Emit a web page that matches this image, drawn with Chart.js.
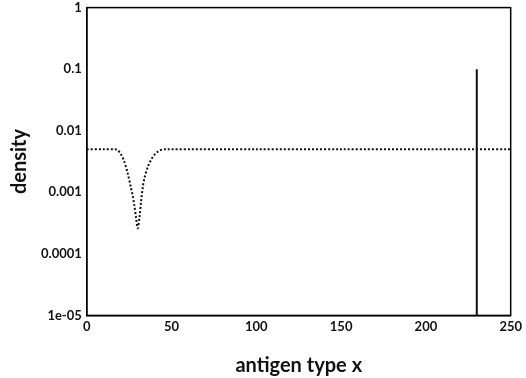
<!DOCTYPE html>
<html>
<head>
<meta charset="utf-8">
<script src="https://cdn.jsdelivr.net/npm/chart.js@4/dist/chart.umd.min.js"></script>
<style>
html,body{margin:0;padding:0;background:#fff;}
canvas{display:block;}
</style>
</head>
<body>
<canvas id="c" width="526" height="378"></canvas>
<script>
// Dotted density curve (antigen type x, density)
const curveX = [0, 10, 16, 18, 20, 22, 24, 26, 27, 28, 29, 30, 31, 32, 33, 34, 36, 38, 40, 42, 44, 46, 100, 150, 200, 250];
const curveY = [0.005, 0.005, 0.005, 0.0049, 0.0042, 0.0032, 0.0021, 0.0012, 0.0009, 0.00062, 0.0004, 0.00026, 0.00038, 0.0007, 0.0012, 0.0017, 0.0026, 0.0034, 0.0041, 0.0046, 0.0049, 0.005, 0.005, 0.005, 0.005, 0.005];
// Solid vertical spike at x = 230
const spikeX = [230, 230];
const spikeY = [0.00001, 0.1];
// Tick labels
const xTicks = [0, 50, 100, 150, 200, 250];
const yTicks = [1, 0.1, 0.01, 0.001, 0.0001, 0.00001];
const yTickLabels = ['1', '0.1', '0.01', '0.001', '0.0001', '1e-05'];

const boxPlugin = {
  id: 'box',
  afterDraw(chart) {
    const a = chart.chartArea, ctx = chart.ctx;
    ctx.save();
    ctx.strokeStyle = '#000';
    ctx.lineWidth = 1.5;
    ctx.strokeRect(a.left, a.top, a.right - a.left, a.bottom - a.top);
    ctx.restore();
  }
};

new Chart(document.getElementById('c'), {
  type: 'scatter',
  data: {
    datasets: [
      {
        data: curveX.map((x, i) => ({x, y: curveY[i]})),
        showLine: true,
        borderColor: '#111',
        borderWidth: 2,
        borderDash: [2, 2],
        pointRadius: 0,
        tension: 0.3
      },
      {
        data: spikeX.map((x, i) => ({x, y: spikeY[i]})),
        showLine: true,
        borderColor: '#111',
        borderWidth: 2,
        pointRadius: 0
      }
    ]
  },
  options: {
    responsive: false,
    animation: false,
    layout: {padding: {top: 0, right: 13, bottom: 0, left: 8}},
    plugins: {legend: {display: false}, tooltip: {enabled: false}},
    scales: {
      x: {
        type: 'linear', min: 0, max: 250,
        afterBuildTicks: s => { s.ticks = xTicks.map(v => ({value: v})); },
        grid: {display: false, drawTicks: false, tickLength: 0},
        border: {display: true, color: '#000', width: 1.5},
        ticks: {color: '#111', padding: 4, font: {family: 'Lato', size: 13, weight: 'bold'}},
        title: {display: true, text: 'antigen type x', color: '#111', padding: {top: 15, bottom: 0}, font: {family: 'Lato', size: 20, weight: 'bold'}}
      },
      y: {
        type: 'logarithmic', min: 0.00001, max: 1,
        afterBuildTicks: s => { s.ticks = yTicks.map(v => ({value: v})); },
        grid: {display: false, drawTicks: false, tickLength: 0},
        border: {display: true, color: '#000', width: 1.5},
        ticks: {
          color: '#111', padding: 5, font: {family: 'Lato', size: 13, weight: 'bold', lineHeight: 0.4},
          callback: v => { const i = yTicks.findIndex(t => Math.abs(Math.log10(t) - Math.log10(v)) < 1e-6); return i >= 0 ? yTickLabels[i] : ''; }
        },
        title: {display: true, text: 'density', color: '#111', padding: {top: 0, bottom: 4}, font: {family: 'Lato', size: 20, weight: 'bold'}}
      }
    }
  },
  plugins: [boxPlugin]
});
</script>
</body>
</html>
